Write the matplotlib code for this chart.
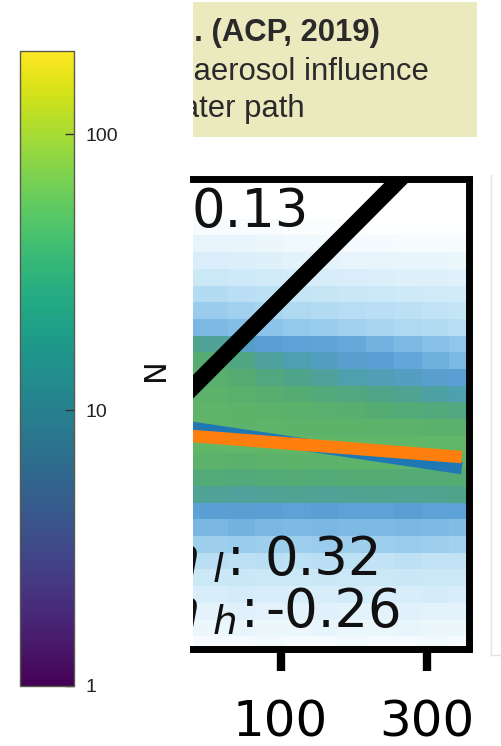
import numpy as np
import matplotlib
matplotlib.use("Agg")
import matplotlib.pyplot as plt
from matplotlib.colors import LinearSegmentedColormap, LogNorm
from matplotlib.cm import ScalarMappable
from matplotlib.lines import Line2D

# normalised joint histogram of N vs LWP, rows listed top -> bottom
hist_rows = [
    [0.00, 0.00, 0.00, 0.00, 0.00, 0.00, 0.00, 0.00, 0.00, 0.00, 0.00],
    [0.00, 0.00, 0.00, 0.00, 0.00, 0.00, 0.00, 0.00, 0.00, 0.00, 0.00],
    [0.00, 0.00, 0.00, 0.00, 0.00, 0.00, 0.00, 0.00, 0.00, 0.00, 0.00],
    [0.04, 0.04, 0.03, 0.03, 0.02, 0.02, 0.02, 0.01, 0.01, 0.01, 0.01],
    [0.10, 0.10, 0.09, 0.08, 0.07, 0.06, 0.05, 0.05, 0.04, 0.04, 0.04],
    [0.16, 0.16, 0.15, 0.14, 0.12, 0.11, 0.10, 0.10, 0.09, 0.09, 0.08],
    [0.22, 0.22, 0.21, 0.20, 0.18, 0.17, 0.16, 0.15, 0.14, 0.14, 0.13],
    [0.30, 0.30, 0.28, 0.27, 0.25, 0.24, 0.23, 0.22, 0.21, 0.20, 0.19],
    [0.37, 0.37, 0.35, 0.33, 0.31, 0.30, 0.29, 0.28, 0.27, 0.26, 0.25],
    [0.46, 0.45, 0.43, 0.41, 0.39, 0.37, 0.35, 0.33, 0.31, 0.30, 0.29],
    [0.75, 0.72, 0.60, 0.56, 0.55, 0.54, 0.52, 0.48, 0.45, 0.42, 0.40],
    [0.86, 0.85, 0.78, 0.70, 0.66, 0.62, 0.58, 0.56, 0.53, 0.49, 0.45],
    [0.90, 0.89, 0.85, 0.80, 0.75, 0.71, 0.67, 0.64, 0.61, 0.58, 0.56],
    [0.93, 0.92, 0.90, 0.87, 0.85, 0.82, 0.79, 0.76, 0.73, 0.69, 0.66],
    [0.95, 0.95, 0.94, 0.92, 0.91, 0.89, 0.87, 0.85, 0.83, 0.81, 0.79],
    [0.95, 0.95, 0.94, 0.95, 0.94, 0.93, 0.93, 0.92, 0.92, 0.91, 0.91],
    [0.98, 0.98, 0.97, 0.98, 0.98, 0.97, 0.98, 0.98, 0.97, 0.98, 0.97],
    [0.92, 0.92, 0.91, 0.92, 0.93, 0.92, 0.93, 0.94, 0.93, 0.94, 0.94],
    [0.82, 0.83, 0.82, 0.83, 0.84, 0.83, 0.84, 0.85, 0.84, 0.84, 0.85],
    [0.72, 0.72, 0.71, 0.72, 0.73, 0.72, 0.73, 0.74, 0.73, 0.74, 0.75],
    [0.55, 0.56, 0.57, 0.56, 0.55, 0.56, 0.55, 0.55, 0.56, 0.55, 0.55],
    [0.46, 0.46, 0.48, 0.46, 0.45, 0.46, 0.45, 0.45, 0.46, 0.45, 0.44],
    [0.36, 0.36, 0.37, 0.36, 0.36, 0.37, 0.36, 0.36, 0.37, 0.36, 0.35],
    [0.28, 0.28, 0.27, 0.28, 0.27, 0.28, 0.27, 0.26, 0.27, 0.26, 0.26],
    [0.22, 0.22, 0.23, 0.22, 0.22, 0.23, 0.22, 0.22, 0.23, 0.22, 0.22],
    [0.17, 0.17, 0.18, 0.17, 0.17, 0.17, 0.18, 0.17, 0.17, 0.18, 0.17],
    [0.12, 0.12, 0.13, 0.12, 0.12, 0.13, 0.12, 0.12, 0.13, 0.12, 0.12],
    [0.08, 0.08, 0.09, 0.08, 0.08, 0.09, 0.08, 0.08, 0.09, 0.08, 0.08],
    [0.05, 0.05, 0.05, 0.06, 0.05, 0.05, 0.06, 0.05, 0.05, 0.06, 0.05],
]

# lines (LWP, N)
black_x = [45, 300]
black_y = [304, 9970]
fit_x = [45, 391]
orange_y = [203, 149]
blue_y = [231, 128]

xticks = [100, 300]
xtick_labels = ["100", "300"]
cbar_ticks = [1, 10, 100]
cbar_labels = ["1", "10", "100"]
slope_vals = ["0.13", "0.32", "-0.26"]
slope_subs = ["", "l", "h"]
box_lines = ["Chen et al. (ACP, 2019)", "of aerosol influence", "on liquid water path"]

W, H = 501, 746
fig = plt.figure(figsize=(W / 100, H / 100), dpi=100)


def fx(px):
    return px / W


def fy(py):
    return (H - py) / H


def clipped(a, px, py, s, **kw):
    t = a.text(fx(px), fy(py), s, transform=fig.transFigure, va="baseline",
               clip_on=True, **kw)
    t.set_clip_box(a.bbox)
    return t


# --- colorbar on the left
cax = fig.add_axes([fx(20), fy(686), fx(74) - fx(20), fy(51) - fy(686)])
sm = ScalarMappable(norm=LogNorm(1, 200), cmap="viridis")
cb = fig.colorbar(sm, cax=cax)
cb.set_ticks(cbar_ticks)
cb.set_ticklabels(cbar_labels)
cb.minorticks_off()
cb.outline.set_edgecolor("#5a5a4a")
cb.outline.set_linewidth(1)
cax.tick_params(direction="in", length=6.5, width=1, color="#333333", pad=8,
                labelsize=14, labelcolor="#222222")
for t in cax.get_yticklabels():
    t.set_family("Liberation Sans")

# --- main panel
ax = fig.add_axes([fx(193), fy(648.5), fx(469) - fx(193), fy(178.5) - fy(648.5)])
cmap = LinearSegmentedColormap.from_list("wbg", [
    (0.0, "#ffffff"), (0.12, "#e2f2fb"), (0.25, "#c4e5f6"), (0.38, "#96cbec"),
    (0.48, "#72b2e0"), (0.56, "#5a9fd4"), (0.66, "#4e9fb0"), (0.75, "#4ea48a"),
    (0.86, "#55ad70"), (1.0, "#64b865")])

xedges = 10 ** (1.6458 + 0.0905 * np.arange(12))
yedges = 10 ** (1.0 + 0.1 * np.arange(30))
C = np.array(hist_rows)[::-1]
ax.pcolormesh(xedges, yedges, C, cmap=cmap, vmin=0, vmax=1, shading="flat")

ax.plot(fit_x, blue_y, color="#1f77b4", lw=9, solid_capstyle="butt")
ax.plot(fit_x, orange_y, color="#ff7f0e", lw=9, solid_capstyle="butt")
ax.plot(black_x, black_y, color="black", lw=12, solid_capstyle="butt")

ax.set_xscale("log")
ax.set_yscale("log")
ax.set_xlim(51.7, 412.5)
ax.set_ylim(10 ** 1.027, 10 ** 3.841)

ax.spines["left"].set_visible(False)
for s in ["top", "right", "bottom"]:
    ax.spines[s].set_linewidth(5)
    ax.spines[s].set_color("black")

ax.set_xticks(xticks)
ax.set_xticklabels(xtick_labels)
ax.xaxis.set_minor_locator(matplotlib.ticker.NullLocator())
ax.set_yticks([])
ax.yaxis.set_minor_locator(matplotlib.ticker.NullLocator())
ax.tick_params(axis="x", direction="out", length=16, width=6, pad=20,
               labelsize=36, color="black")

# slope annotations, cut off at the panel's left edge
tc = "#111111"
clipped(ax, 191.5, 227, slope_vals[0], ha="left", fontsize=38, color=tc)
rows = [(575, 227, 264.5), (627, 241, 265)]
for (base, colon_x, val_x), sub, val in zip(rows, slope_subs[1:], slope_vals[1:]):
    clipped(ax, 197.5, base, "$n$", ha="right", fontsize=38, color=tc)
    clipped(ax, 212, base + 7, "$%s$" % sub, ha="left", fontsize=28, color=tc)
    clipped(ax, colon_x, base, ":", ha="left", fontsize=38, color=tc)
    clipped(ax, val_x, base, val, ha="left", fontsize=38, color=tc)

fig.text(fx(155.5), fy(370), "N", rotation=90, ha="center", va="center",
         fontsize=22, color=tc)

# --- beige title box
bax = fig.add_axes([fx(193), fy(137), fx(477) - fx(193), fy(2) - fy(137)])
bax.set_facecolor("#ebe9be")
bax.set_xticks([])
bax.set_yticks([])
for s in bax.spines.values():
    s.set_visible(False)
box_pos = [(379.5, 41), (428.5, 80), (305, 117)]
for i, (s, (px, py)) in enumerate(zip(box_lines, box_pos)):
    clipped(bax, px, py, s, ha="right", fontsize=22.3, color="#2a2a2a",
            family="Liberation Sans", weight="bold" if i == 0 else "normal")

# edge of the neighbouring panel
fig.add_artist(Line2D([fx(490.5), fx(490.5)], [fy(175), fy(655)],
                      color="#e2e2e2", lw=1, transform=fig.transFigure))
fig.add_artist(Line2D([fx(490.5), fx(501)], [fy(655), fy(655)],
                      color="#e2e2e2", lw=1, transform=fig.transFigure))

fig.savefig("out.png", dpi=100)
